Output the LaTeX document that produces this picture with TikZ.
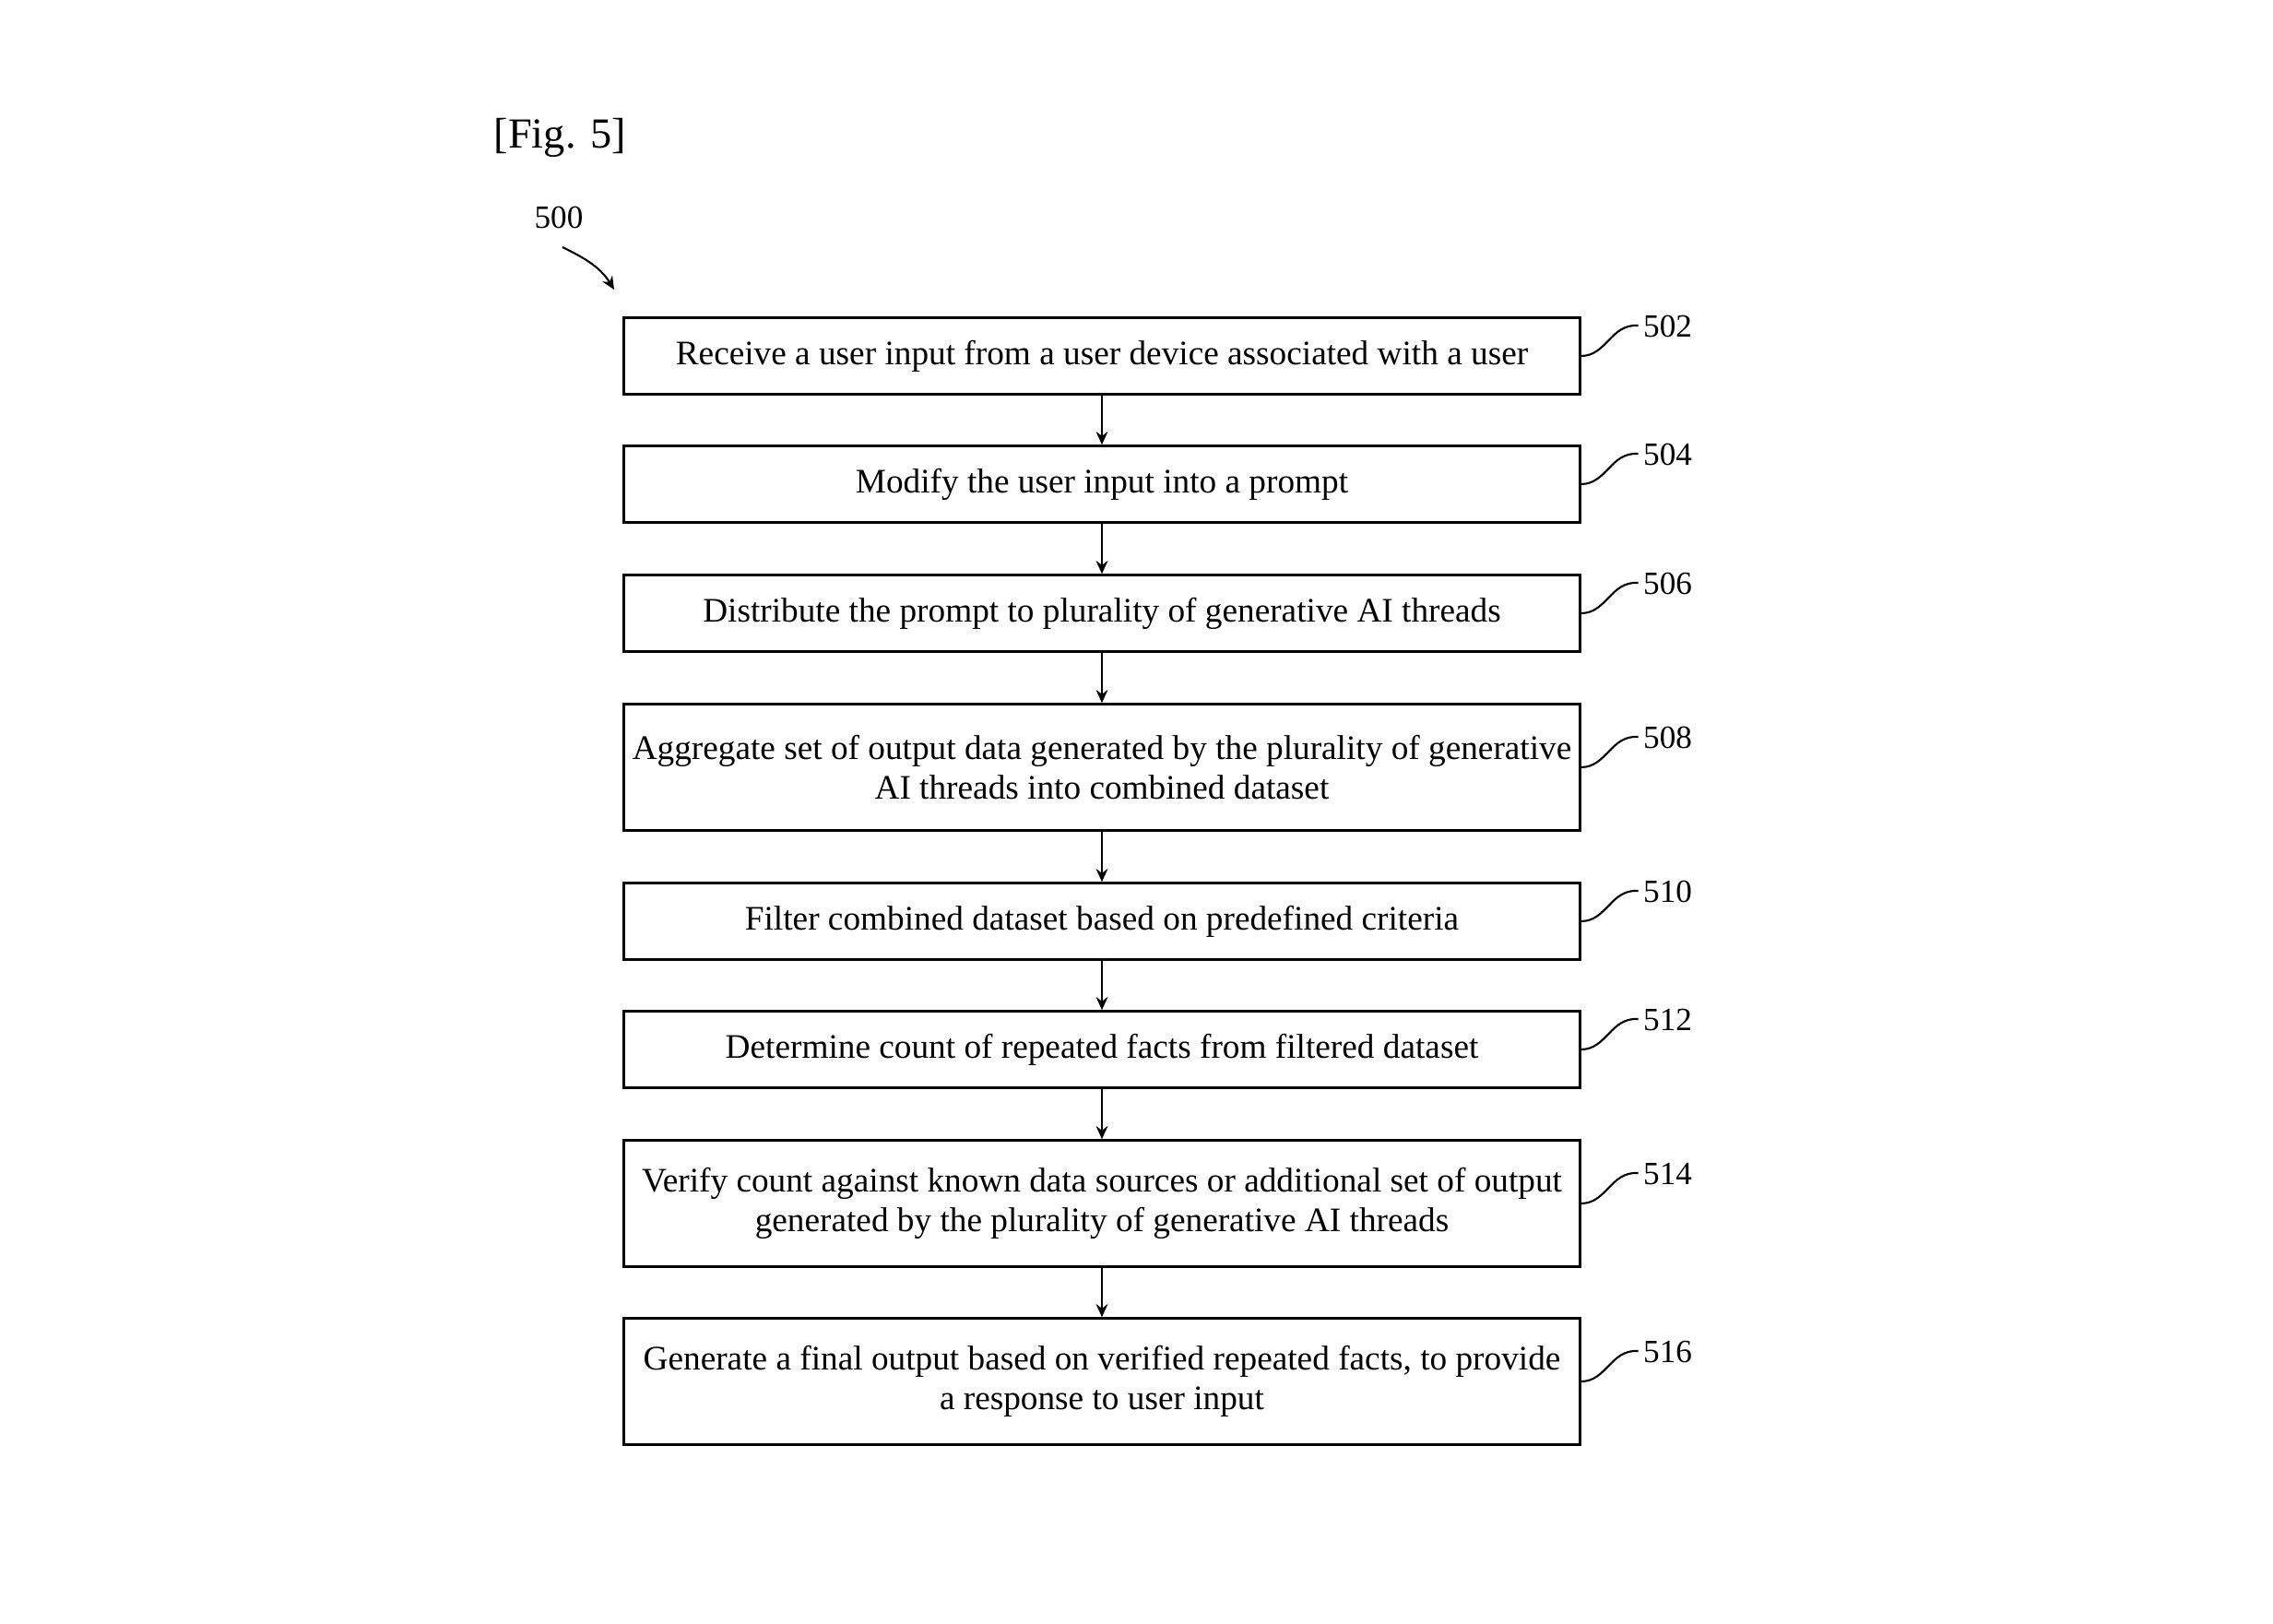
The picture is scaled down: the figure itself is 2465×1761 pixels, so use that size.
\documentclass[tikz,border=0pt]{standalone}
\usepackage{fontspec}
\setmainfont{Liberation Serif}
\usetikzlibrary{arrows.meta,calc}

\tikzset{
  stepbox/.style={draw, line width=0.7pt, minimum width=10.36cm, inner sep=0pt,
    align=center, font=\fontsize{10.6}{12.2}\selectfont},
  onerow/.style={stepbox, minimum height=0.83cm},
  tworow/.style={stepbox, minimum height=1.37cm},
  flow/.style={line width=0.7pt, -{Stealth[length=4pt,width=3.6pt]}},
  leader/.style={line width=0.6pt},
  refnum/.style={anchor=west, inner sep=0pt, font=\fontsize{10}{12}\selectfont}
}

% reference numeral with its curved leader, hung on a box's right side
\newcommand{\boxtag}[2]{%
  \coordinate (t#1) at ($(#2.east)+(62,-33)$);
  \draw[leader] (#2.east) .. controls ($(#2.east)+(28,0)$) and ($(t#1)+(-30,-2)$) .. (t#1);
  \node[refnum] (l#1) at ($(t#1)+(5,1)$) {#1};
}

\begin{document}
\begin{tikzpicture}[x=0.01cm, y=-0.01cm]
  \path[use as bounding box] (0,0) rectangle (2465,1761);

  \node[anchor=west, inner sep=0pt, font=\fontsize{13.2}{15}\selectfont] (title) at (535,149) {[Fig. 5]};

  \node[inner sep=0pt, font=\fontsize{10}{12}\selectfont] (n500) at (606,236) {500};
  \coordinate (s500) at (610,268);
  \coordinate (a500) at (666,314);
  \draw[leader, -{Stealth[length=4pt,width=3.6pt]}] (s500) .. controls (630,278) and (650,288) .. (a500);

  \node[onerow] (s502) at (1195,386) {Receive a user input from a user device associated with a user};
  \node[onerow] (s504) at (1195,525) {Modify the user input into a prompt};
  \node[onerow] (s506) at (1195,665) {Distribute the prompt to plurality of generative AI threads};
  \node[tworow] (s508) at (1195,832) {Aggregate set of output data generated by the plurality of generative\\AI threads into combined dataset};
  \node[onerow] (s510) at (1195,999) {Filter combined dataset based on predefined criteria};
  \node[onerow] (s512) at (1195,1138) {Determine count of repeated facts from filtered dataset};
  \node[tworow] (s514) at (1195,1305) {Verify count against known data sources or additional set of output\\generated by the plurality of generative AI threads};
  \node[tworow] (s516) at (1195,1498) {Generate a final output based on verified repeated facts, to provide\\a response to user input};

  \draw[flow] (s502) -- (s504);
  \draw[flow] (s504) -- (s506);
  \draw[flow] (s506) -- (s508);
  \draw[flow] (s508) -- (s510);
  \draw[flow] (s510) -- (s512);
  \draw[flow] (s512) -- (s514);
  \draw[flow] (s514) -- (s516);

  \boxtag{502}{s502}
  \boxtag{504}{s504}
  \boxtag{506}{s506}
  \boxtag{508}{s508}
  \boxtag{510}{s510}
  \boxtag{512}{s512}
  \boxtag{514}{s514}
  \boxtag{516}{s516}
\end{tikzpicture}
\end{document}
